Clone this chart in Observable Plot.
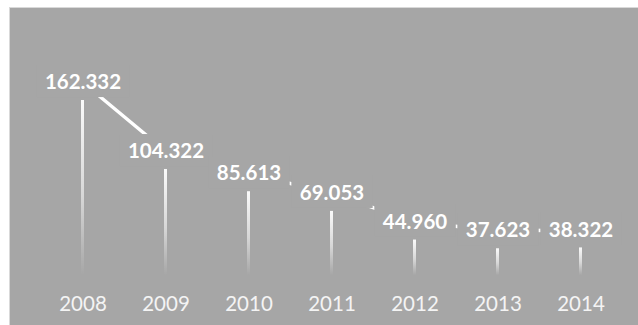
<!DOCTYPE html>
<html>
<head>
<meta charset="utf-8">
<script src="https://cdn.jsdelivr.net/npm/d3@7"></script>
<script src="https://cdn.jsdelivr.net/npm/@observablehq/plot@0.6"></script>
<style>
  html, body { margin: 0; padding: 0; background: #ffffff; }
  #frame { position: absolute; left: 9px; top: 7px; width: 629px; height: 318px;
           border-left: 1px solid #d9d9d9; border-top: 1px solid #d9d9d9; background: #a6a6a6; }
  #chart { position: absolute; left: 0; top: 0; }
  #chart svg { display: block; }
</style>
</head>
<body>
<div id="frame"><div id="chart"></div></div>
<script>
const years = ["2008", "2009", "2010", "2011", "2012", "2013", "2014"];
const values = [162.332, 104.322, 85.613, 69.053, 44.960, 37.623, 38.322];
const barBase = 15;

const data = years.map((year, i) => ({ year, value: values[i] }));
const fmt = v => v.toFixed(3);
const bg = "#a6a6a6";

const gradientDefs = () => {
  const defs = d3.create("svg:defs");
  const g = defs.append("linearGradient")
    .attr("id", "barFade").attr("x1", 0).attr("y1", 0).attr("x2", 0).attr("y2", 1);
  g.append("stop").attr("offset", "0%").attr("stop-color", "#ffffff").attr("stop-opacity", 0.95);
  g.append("stop").attr("offset", "55%").attr("stop-color", "#ffffff").attr("stop-opacity", 0.55);
  g.append("stop").attr("offset", "100%").attr("stop-color", "#ffffff").attr("stop-opacity", 0);
  return defs.node();
};

const chart = Plot.plot({
  width: 628,
  height: 317,
  marginLeft: 30,
  marginRight: 15.5,
  marginTop: 71,
  marginBottom: 32,
  style: { background: "transparent", overflow: "visible" },
  x: { domain: years, padding: 0, label: null },
  y: { domain: [0, 180], axis: null },
  marks: [
    gradientDefs,
    Plot.barY(data, {
      x: "year", y1: barBase, y2: "value",
      insetLeft: 40, insetRight: 40,
      fill: "url(#barFade)"
    }),
    Plot.lineY(data, {
      x: "year", y: "value", dy: -18,
      stroke: "#ffffff", strokeWidth: 3.5
    }),
    Plot.text(data, {
      x: "year", y: "value", dy: -18,
      text: d => fmt(d.value),
      fill: "#ffffff",
      fontSize: 20.5, fontWeight: "bold", fontFamily: "Lato",
      className: "value-label"
    }),
    Plot.axisX({
      tickSize: 0, tickPadding: 3, fontSize: 20.5, fontFamily: "Lato",
      fill: "#f4f4f4", label: null
    })
  ]
});

document.getElementById("chart").appendChild(chart);

// Data-label backgrounds (as in the original: labels sit on a box that hides the line)
const padX = 8.5, padY = 4;
d3.select(chart).selectAll("g.value-label text").each(function () {
  const b = this.getBBox();
  const t = this.getAttribute("transform");
  d3.select(this.parentNode).insert("rect", () => this)
    .attr("transform", t)
    .attr("x", b.x - padX).attr("y", b.y - padY)
    .attr("width", b.width + 2 * padX).attr("height", b.height + 2 * padY)
    .attr("fill", bg);
});
</script>
</body>
</html>
